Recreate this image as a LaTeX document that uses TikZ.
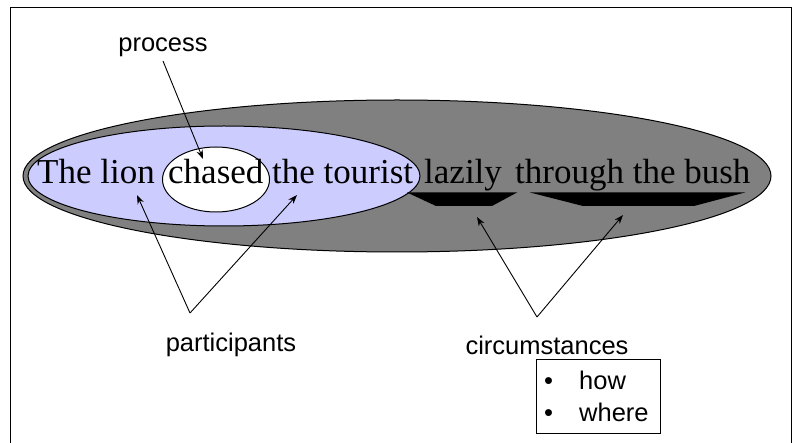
\documentclass[tikz,border=0pt]{standalone}
\usepackage{fontspec}
\setmainfont{Liberation Serif}
\newfontfamily\labelfont{Liberation Sans}
\usetikzlibrary{arrows.meta}
\definecolor{outerfill}{HTML}{808080}
\definecolor{innerfill}{HTML}{CCCCFF}

\begin{document}
\begin{tikzpicture}[x=1pt,y=-1pt,
  sentence/.style={inner sep=0pt, anchor=base west, font=\fontsize{35}{40}\selectfont},
  termtext/.style={inner sep=0pt, font=\labelfont\fontsize{25.5}{30}\selectfont},
  itemtext/.style={inner sep=0pt, anchor=base west, font=\labelfont\fontsize{25.5}{30}\selectfont},
  pointer/.style={line width=0.9pt, -{Stealth[length=9pt,width=6.5pt]}},
  bubble/.style={draw=black, line width=1pt},
  bracket/.style={fill=black}]
  \useasboundingbox (0,0) rectangle (794,443);

  % open frame
  \draw[line width=1.5pt] (10.5,443) -- (10.5,7.5) -- (791.5,7.5) -- (791.5,443);

  % clause, participants and process groupings
  \draw[bubble, fill=outerfill] (397,176) ellipse [x radius=374, y radius=76];
  \draw[bubble, fill=innerfill] (224,176) ellipse [x radius=196, y radius=50];
  \draw[bubble, fill=white] (216,179.5) ellipse [x radius=53.5, y radius=32.5];

  % the sentence
  \node[sentence] (lion)    at (37,184)  {The lion};
  \node[sentence] (chased)  at (168,184) {chased};
  \node[sentence] (tourist) at (272,184) {the tourist};
  \node[sentence] (lazily)  at (424,184) {lazily};
  \node[sentence] (bush)    at (515,184) {through the bush};

  % underline brackets of the circumstances
  \fill[bracket] (407,192.5) -- (517,192.5) -- (492,206) -- (436,206) -- cycle;
  \fill[bracket] (530,192.5) -- (745,192.5) -- (694,206) -- (583,206) -- cycle;

  % labels
  \node[termtext] (process) at (163,47) {process};
  \node[termtext] (participants) at (231,345) {participants};
  \node[termtext] (circumstances) at (547,345) {circumstances};

  % box listing the circumstance types
  \node[draw, line width=1pt, minimum width=124pt, minimum height=74pt, inner sep=0pt]
    (types) at (598,396) {};
  \node[itemtext] (b1) at (544,389) {\textbullet};
  \node[itemtext] (b2) at (544,421) {\textbullet};
  \node[itemtext] (how) at (579,389) {how};
  \node[itemtext] (where) at (579,421) {where};

  % arrow end points
  \coordinate (procfoot) at (163,61);
  \coordinate (proctip) at (203,159);
  \coordinate (partapex) at (190,313);
  \coordinate (partleft) at (137,195);
  \coordinate (partright) at (297,195);
  \coordinate (circapex) at (537,317);
  \coordinate (circleft) at (477,217);
  \coordinate (circright) at (623,215);

  % pointers
  \draw[pointer] (procfoot) -- (proctip);
  \draw[pointer] (partapex) -- (partleft);
  \draw[pointer] (partapex) -- (partright);
  \draw[pointer] (circapex) -- (circleft);
  \draw[pointer] (circapex) -- (circright);
\end{tikzpicture}
\end{document}
